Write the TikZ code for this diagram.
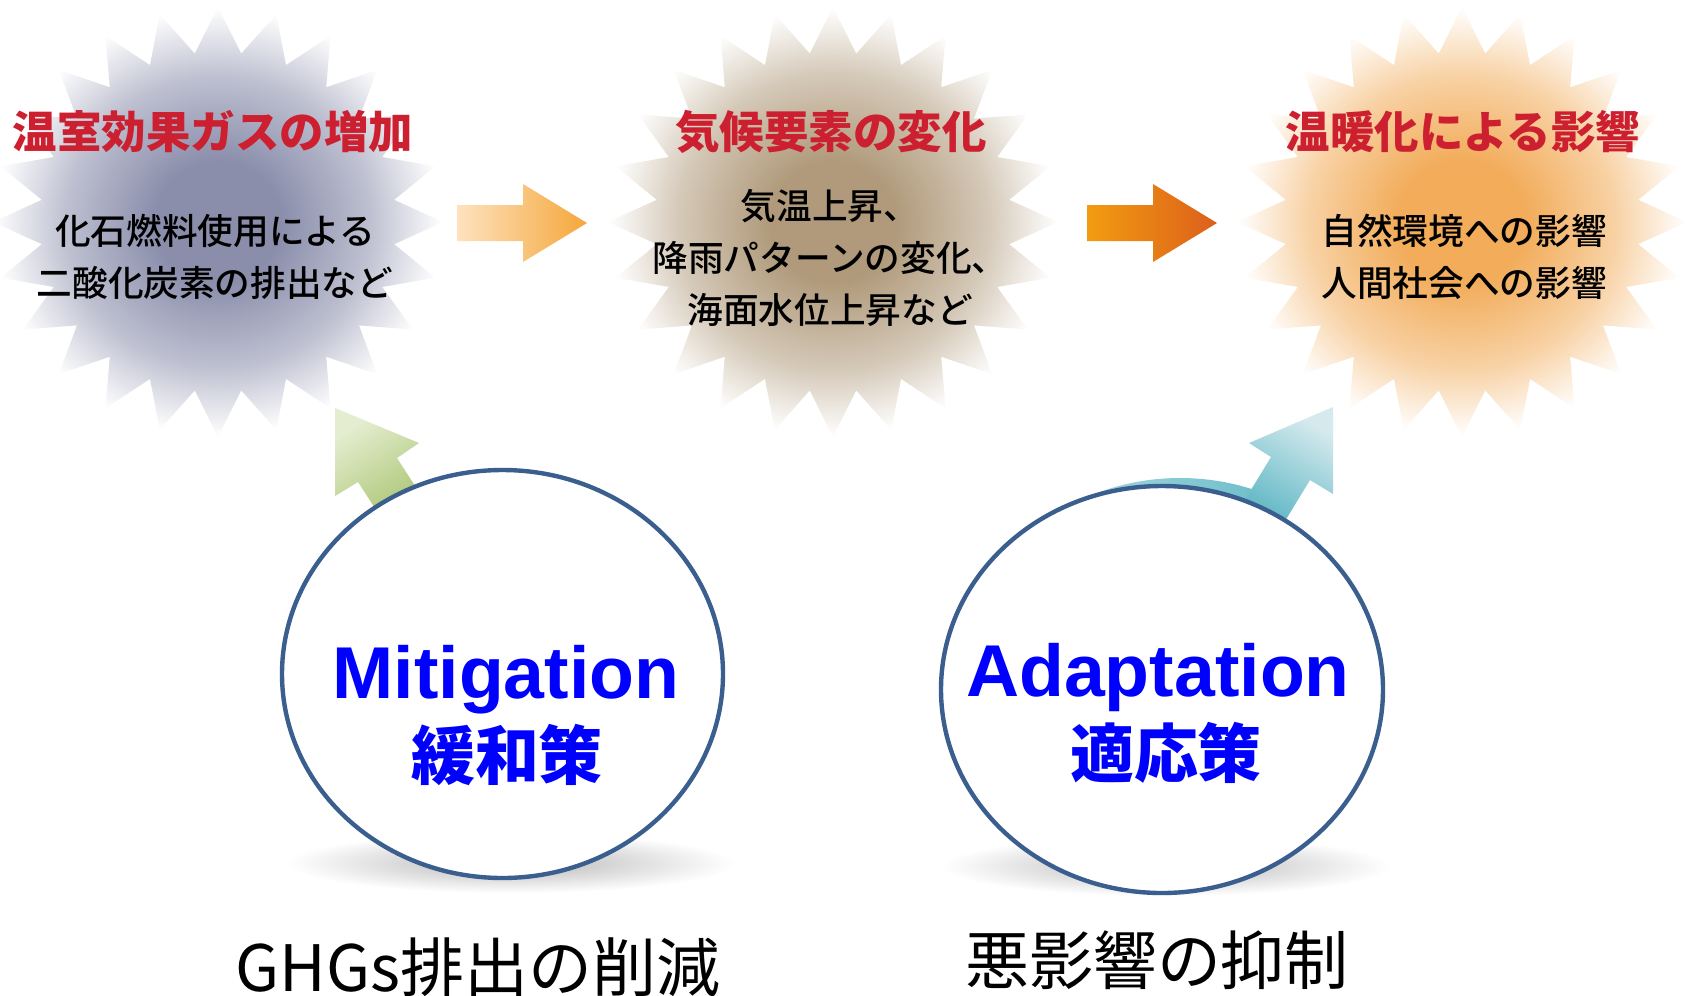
\documentclass[tikz,border=0pt]{standalone}
\usepackage{fontspec}
\newfontfamily\jp{Noto Sans CJK JP}
\newfontfamily\jpm{Noto Sans CJK JP Medium}
\newfontfamily\lat{Liberation Sans}
\definecolor{sA}{HTML}{8A8EAB}
\definecolor{sB}{HTML}{B09A7B}
\definecolor{sC}{HTML}{F2AC5A}
\definecolor{titlered}{HTML}{CC1F2F}
\definecolor{circ}{HTML}{3A5F8E}
\definecolor{arAL}{HTML}{FDE2BF}
\definecolor{arAR}{HTML}{F5A73B}
\definecolor{arBL}{HTML}{F29C12}
\definecolor{arBR}{HTML}{DC5F1A}
\definecolor{grL}{HTML}{E4EDD0}
\definecolor{grD}{HTML}{9ABA58}
\definecolor{tlL}{HTML}{D6EAEE}
\definecolor{tlD}{HTML}{45ACBB}
\definecolor{shd}{HTML}{B5B5B5}
\colorlet{sAm}{sA!55!white}
\colorlet{sBm}{sB!55!white}
\colorlet{sCm}{sC!55!white}
\pgfdeclareradialshading{burstA}{\pgfpointorigin}{color(0bp)=(sA); color(7bp)=(sA); color(17bp)=(sAm); color(25bp)=(white); color(50bp)=(white)}
\pgfdeclareradialshading{burstB}{\pgfpointorigin}{color(0bp)=(sB); color(7bp)=(sB); color(17bp)=(sBm); color(25bp)=(white); color(50bp)=(white)}
\pgfdeclareradialshading{burstC}{\pgfpointorigin}{color(0bp)=(sC); color(7bp)=(sC); color(17bp)=(sCm); color(25bp)=(white); color(50bp)=(white)}
\newcommand\burstpath[2]{(#1+225,#2) \foreach \k in {1,...,47}{ -- ({#1+225*(1-0.21*mod(\k,2))*cos(\k*7.5)},{#2+215*(1-0.21*mod(\k,2))*sin(\k*7.5)})} -- cycle}
\begin{document}
\begin{tikzpicture}[x=0.02cm, y=-0.02cm,
  ttl/.style={font=\jp\bfseries\fontsize{25.3pt}{30pt}\selectfont, text=titlered, inner sep=0pt},
  body/.style={font=\jpm\fontsize{20.3pt}{29.6pt}\selectfont, align=center, inner sep=0pt},
  eng/.style={font=\lat\bfseries\fontsize{41.8pt}{48pt}\selectfont, text=blue, inner sep=0pt, anchor=base},
  jpn/.style={font=\jp\bfseries\fontsize{36.4pt}{40pt}\selectfont, text=blue, inner sep=0pt},
  note/.style={font=\jp\fontsize{36.4pt}{40pt}\selectfont, inner sep=0pt},
  ring/.style={draw=circ, fill=white, line width=2.5pt}]
\useasboundingbox (0,0) rectangle (1685,995);
\fill[white] (0,0) rectangle (1685,995);
% circle shadows
\shade[inner color=shd, outer color=white] (511,863) ellipse [x radius=224, y radius=30];
\shade[inner color=shd, outer color=white] (1166,866) ellipse [x radius=224, y radius=30];
% starbursts
\shade[shading=burstA] \burstpath{218}{222};
\shade[shading=burstB] \burstpath{833}{222};
\shade[shading=burstC] \burstpath{1462}{222};
% horizontal arrows
\shade[left color=arAL, right color=arAR] (457,205) -- (523,205) -- (523,184) -- (587,223) -- (523,262) -- (523,241) -- (457,241) -- cycle;
\shade[left color=arBL, right color=arBR] (1087,205) -- (1153,205) -- (1153,184) -- (1217,223) -- (1153,262) -- (1153,241) -- (1087,241) -- cycle;
% green arrow
\shade[top color=grL, bottom color=grD, shading angle=33] (335,408) -- (419,443) -- (397,458) -- (441,526) -- (402,550) -- (358,482) -- (335,496) -- cycle;
% teal crescent and arrow
\begin{scope}
\clip (1050,440) rectangle (1270,560);
\shade[left color=tlD!30!white, right color=tlD] (1180,683) ellipse [x radius=221, y radius=205];
\end{scope}
\shade[top color=tlL, bottom color=tlD, shading angle=-31] (1333,407) -- (1333,494) -- (1310,480) -- (1268,549) -- (1229,526) -- (1271,457) -- (1249,443) -- cycle;
% circles
\draw[ring] (502.5,674) ellipse [x radius=220.5, y radius=204];
\draw[ring] (1162,689.5) ellipse [x radius=221, y radius=203.5];
% texts
\node[ttl] (t1) at (213,132) {温室効果ガスの増加};
\node[ttl] (t2) at (831,132) {気候要素の変化};
\node[ttl] (t3) at (1463,132) {温暖化による影響};
\node[body] (b1) at (215,257) {化石燃料使用による\\二酸化炭素の排出など};
\node[body] (b2) at (830,258) {気温上昇、\\降雨パターンの変化、\\海面水位上昇など};
\node[body] (b3) at (1464,257) {自然環境への影響\\人間社会への影響};
\node[eng] (mit) at (506,698) {Mitigation};
\node[jpn] (mitj) at (507,755) {緩和策};
\node[eng] (ada) at (1158,696) {Adaptation};
\node[jpn] (adaj) at (1166,753) {適応策};
\node[note] (n1) at (478,967) {GHGs排出の削減};
\node[note] (n2) at (1157,960) {悪影響の抑制};
\end{tikzpicture}
\end{document}
